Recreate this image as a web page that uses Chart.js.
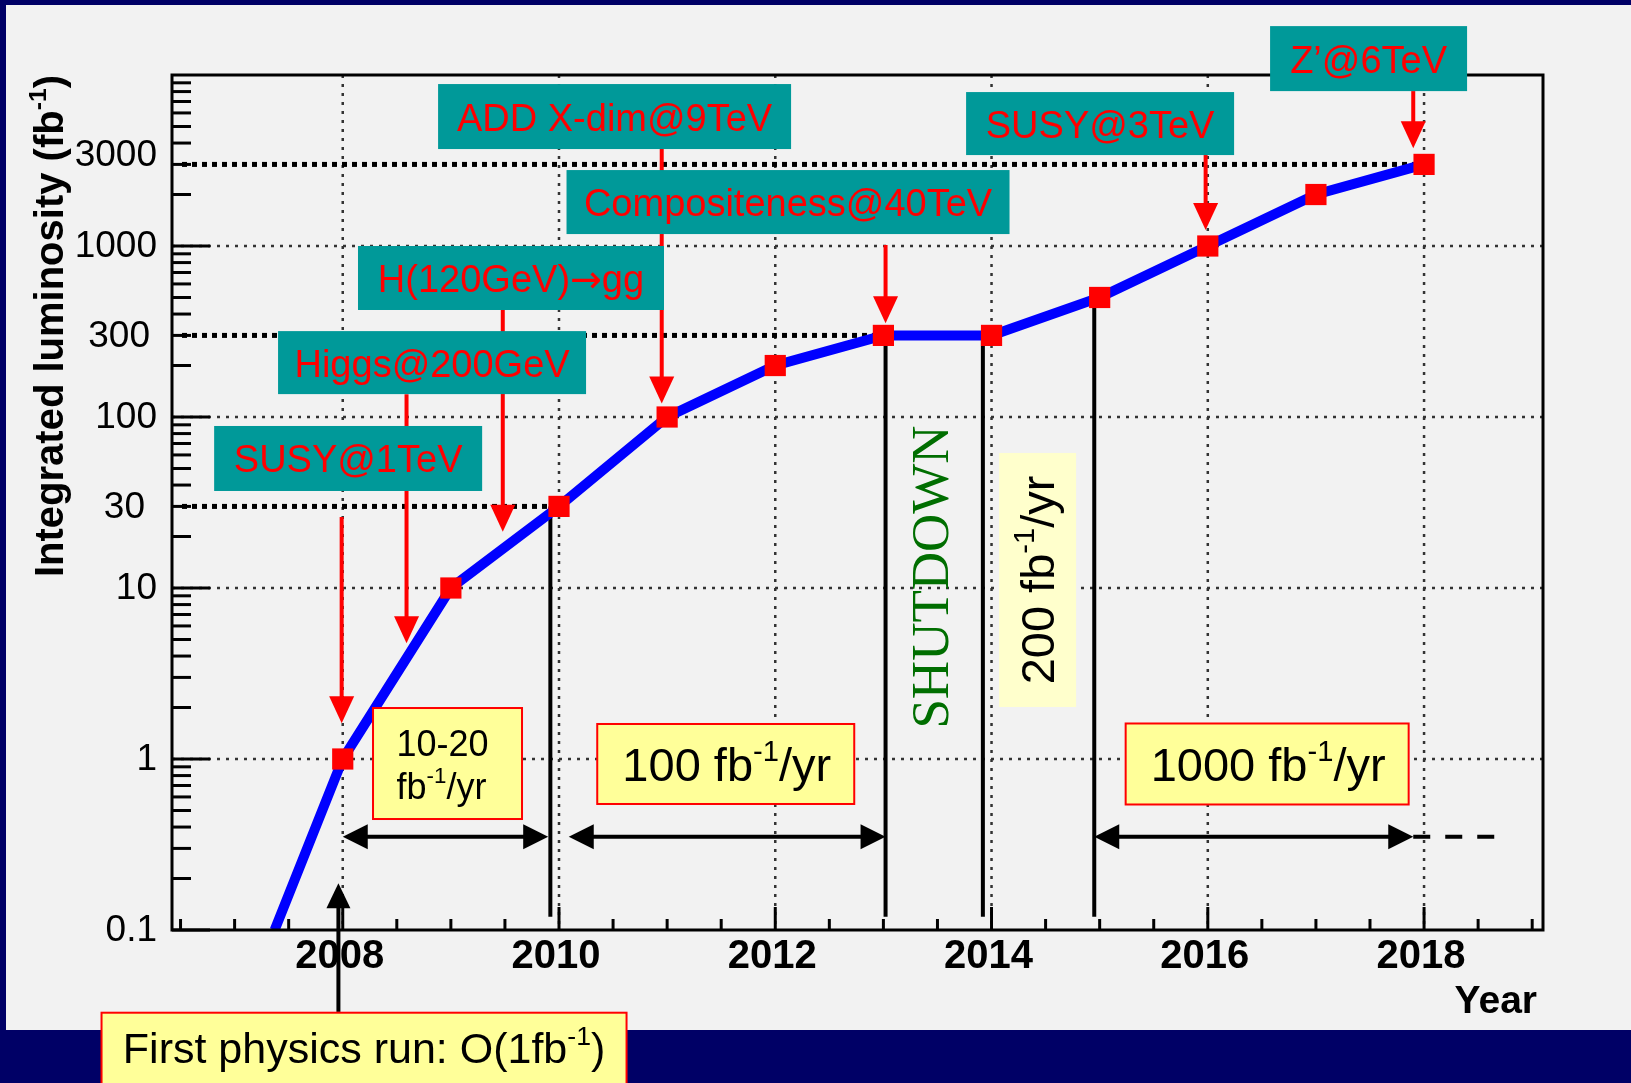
<!DOCTYPE html>
<html>
<head>
<meta charset="utf-8">
<title>Integrated luminosity projection</title>
<script src="https://cdn.jsdelivr.net/npm/chart.js@4.4.0/dist/chart.umd.min.js"></script>
<style>
  html, body { margin: 0; padding: 0; background: #000066; }
  canvas { display: block; }
</style>
</head>
<body>
<canvas id="lumiChart" width="1631" height="1083"></canvas>
<script>
// integrated luminosity reached at the end of each year (fb^-1)
const years = [2008, 2009, 2010, 2011, 2012, 2013, 2014, 2015, 2016, 2017, 2018];
const lumi = [1, 10, 30, 100, 200, 300, 300, 500, 1000, 2000, 3000];
// the curve comes in from the bottom of the plot before 2008
const rampYear = 2007.37;
const rampLumi = 0.1;

const yearLabels = [2008, 2010, 2012, 2014, 2016, 2018];
const lumiLabels = [0.1, 1, 10, 30, 100, 300, 1000, 3000];
const lumiGrid = [1, 10, 100, 1000];
const guideLumi = [30, 300, 3000];
const guideYear = [2010, 2013, 2018];

const reachLabels = ['SUSY@1TeV', 'Higgs@200GeV', 'H(120GeV)\u2192gg', 'ADD X-dim@9TeV',
  'Compositeness@40TeV', 'SUSY@3TeV', 'Z\u2019@6TeV'];

const FONT = '"Liberation Sans", Arial, Helvetica, sans-serif';
const SERIF = '"Liberation Serif", "Times New Roman", serif';

// where things go, in (year, lumi) so they follow the scales
const reachBoxes = [
  { x: 2008.05, y: 57.2, w: 268, h: 65 },
  { x: 2008.826, y: 208, w: 308, h: 63 },
  { x: 2009.556, y: 650, w: 306, h: 64 },
  { x: 2010.514, y: 5715, w: 353, h: 65 },
  { x: 2012.118, y: 1807, w: 443, h: 64 },
  { x: 2015.004, y: 5200, w: 268, h: 63 },
  { x: 2017.487, y: 12470, w: 197, h: 65 },
];
const reachArrows = [
  { x: 2007.99, from: 26, to: 1.62 },
  { x: 2008.59, from: 136, to: 4.75 },
  { x: 2009.48, from: 422, to: 21.3 },
  { x: 2010.95, from: 5457, to: 120 },
  { x: 2013.02, from: 1014, to: 353 },
  { x: 2015.98, from: 3404, to: 1240 },
  { x: 2017.9, from: 8055, to: 3725 },
];
// run periods (double arrows) and the black markers dropping from the curve
const spanY = 0.351;
const spans = [[2008.0, 2009.9], [2010.09, 2013.02], [2014.95, 2017.9]];
const dropLines = [{ x: 2009.92, y: 30 }, { x: 2013.02, y: 300 }, { x: 2013.92, y: 300 }, { x: 2014.95, y: 500 }];
const dropEnd = 0.1196;

const sup = t => [t, true];

function font(size, bold) {
  return (bold ? 'bold ' : '') + size + 'px ' + FONT;
}

// text with superscripts: segs = [[text, isSup], ...]
function drawRich(ctx, segs, x, y, size, align, bold) {
  let total = 0;
  const widths = segs.map(([t, s]) => {
    ctx.font = font(s ? size * 0.62 : size, bold);
    const w = ctx.measureText(t).width;
    total += w;
    return w;
  });
  let cx = align === 'center' ? x - total / 2 : align === 'right' ? x - total : x;
  ctx.textAlign = 'left';
  ctx.textBaseline = 'alphabetic';
  segs.forEach(([t, s], i) => {
    ctx.font = font(s ? size * 0.62 : size, bold);
    ctx.fillText(t, cx, s ? y - size * 0.42 : y);
    cx += widths[i];
  });
}

// box label; the arrow glyph is taken from DejaVu so it reads at full size
function drawReachLabel(ctx, label, x, y, size) {
  const parts = label.split('\u2192');
  const fonts = [];
  const texts = [];
  parts.forEach((p, i) => {
    if (i > 0) { texts.push('\u2192'); fonts.push(size + 'px "DejaVu Sans", sans-serif'); }
    texts.push(p); fonts.push(font(size, false));
  });
  let total = 0;
  const widths = texts.map((t, i) => { ctx.font = fonts[i]; const w = ctx.measureText(t).width; total += w; return w; });
  let cx = x - total / 2;
  ctx.textAlign = 'left';
  texts.forEach((t, i) => { ctx.font = fonts[i]; ctx.fillText(t, cx, y); cx += widths[i]; });
}

function arrowDown(ctx, x, y1, y2, head, half) {
  ctx.beginPath();
  ctx.moveTo(x, y1);
  ctx.lineTo(x, y2 - head + 1);
  ctx.stroke();
  ctx.beginPath();
  ctx.moveTo(x, y2);
  ctx.lineTo(x - half, y2 - head);
  ctx.lineTo(x + half, y2 - head);
  ctx.closePath();
  ctx.fill();
}

function arrowUp(ctx, x, y1, y2, head, half) {
  ctx.beginPath();
  ctx.moveTo(x, y1);
  ctx.lineTo(x, y2 + head - 1);
  ctx.stroke();
  ctx.beginPath();
  ctx.moveTo(x, y2);
  ctx.lineTo(x - half, y2 + head);
  ctx.lineTo(x + half, y2 + head);
  ctx.closePath();
  ctx.fill();
}

function doubleArrow(ctx, x1, x2, y) {
  const head = 25, half = 12.5;
  ctx.beginPath();
  ctx.moveTo(x1 + head - 1, y);
  ctx.lineTo(x2 - head + 1, y);
  ctx.stroke();
  ctx.beginPath();
  ctx.moveTo(x1, y);
  ctx.lineTo(x1 + head, y - half);
  ctx.lineTo(x1 + head, y + half);
  ctx.closePath();
  ctx.fill();
  ctx.beginPath();
  ctx.moveTo(x2, y);
  ctx.lineTo(x2 - head, y - half);
  ctx.lineTo(x2 - head, y + half);
  ctx.closePath();
  ctx.fill();
}

function yellowBox(ctx, cx, cy, w, h, border) {
  ctx.fillStyle = border ? '#ffff99' : '#ffffcc';
  ctx.fillRect(cx - w / 2, cy - h / 2, w, h);
  if (border) {
    ctx.strokeStyle = '#ff0000';
    ctx.lineWidth = 2;
    ctx.setLineDash([]);
    ctx.strokeRect(cx - w / 2, cy - h / 2, w, h);
  }
}

const rootStyle = {
  id: 'rootStyle',
  beforeDraw(chart) {
    const ctx = chart.ctx;
    ctx.save();
    ctx.fillStyle = '#000066';
    ctx.fillRect(0, 0, chart.width, chart.height);
    ctx.fillStyle = '#f2f2f2';
    ctx.fillRect(6, 5, chart.width - 6, 1025);
    ctx.restore();
  },
  beforeDatasetsDraw(chart) {
    const ctx = chart.ctx;
    const { left, right, top, bottom } = chart.chartArea;
    const X = v => chart.scales.x.getPixelForValue(v);
    const Y = v => chart.scales.y.getPixelForValue(v);
    ctx.save();

    // dotted grid
    ctx.strokeStyle = '#333';
    ctx.lineWidth = 2.5;
    ctx.setLineDash([3, 6]);
    yearLabels.forEach(t => {
      ctx.beginPath();
      ctx.moveTo(X(t), top);
      ctx.lineTo(X(t), bottom);
      ctx.stroke();
    });
    lumiGrid.forEach(v => {
      ctx.beginPath();
      ctx.moveTo(left, Y(v));
      ctx.lineTo(right, Y(v));
      ctx.stroke();
    });

    // heavy dotted guides to 30, 300, 3000
    ctx.strokeStyle = '#000';
    ctx.lineWidth = 5;
    ctx.setLineDash([5, 5]);
    guideLumi.forEach((v, i) => {
      ctx.beginPath();
      ctx.moveTo(left + 10, Y(v));
      ctx.lineTo(X(guideYear[i]), Y(v));
      ctx.stroke();
    });

    // drop lines marking the running periods
    ctx.setLineDash([]);
    ctx.lineWidth = 4;
    dropLines.forEach(d => {
      ctx.beginPath();
      ctx.moveTo(X(d.x), Y(d.y));
      ctx.lineTo(X(d.x), Y(dropEnd));
      ctx.stroke();
    });
    ctx.restore();
  },
  afterDatasetsDraw(chart) {
    const ctx = chart.ctx;
    const { left, right, top, bottom } = chart.chartArea;
    const X = v => chart.scales.x.getPixelForValue(v);
    const Y = v => chart.scales.y.getPixelForValue(v);
    ctx.save();
    ctx.setLineDash([]);

    // frame and ticks
    ctx.strokeStyle = '#000';
    ctx.lineWidth = 3;
    ctx.strokeRect(left, top, right - left, bottom - top);
    for (let t = 2006.5; t < 2019.1; t += 0.5) {
      const len = t % 2 === 0 ? 23 : 11;
      ctx.beginPath();
      ctx.moveTo(X(t), bottom);
      ctx.lineTo(X(t), bottom - len);
      ctx.stroke();
    }
    for (let e = -1; e <= 3; e++) {
      for (let k = 1; k <= 9; k++) {
        const v = k * Math.pow(10, e);
        const len = k === 1 ? 38 : 19;
        ctx.beginPath();
        ctx.moveTo(left, Y(v));
        ctx.lineTo(left + len, Y(v));
        ctx.stroke();
      }
    }

    // tick labels
    ctx.fillStyle = '#000';
    ctx.font = font(37, false);
    ctx.textAlign = 'right';
    ctx.textBaseline = 'middle';
    const labelShift = { 30: [-12, 0], 300: [-7, 0], 3000: [0, -10] };
    lumiLabels.forEach(v => {
      const [dx, dy] = labelShift[v] || [0, 0];
      ctx.fillText(String(v), left - 15 + dx, Y(v) + 1 + dy);
    });
    ctx.font = font(40, true);
    ctx.textAlign = 'center';
    ctx.textBaseline = 'alphabetic';
    yearLabels.forEach(t => ctx.fillText(String(t), X(t) - 3, bottom + 38));

    // axis titles
    ctx.font = font(39, true);
    ctx.textAlign = 'right';
    ctx.fillText('Year', right - 6, bottom + 83);
    ctx.save();
    ctx.translate(63, top);
    ctx.rotate(-Math.PI / 2);
    drawRich(ctx, [['Integrated luminosity (fb'], sup('-1'), [')']], 0, 0, 40, 'right', true);
    ctx.restore();

    // red reach arrows, then the teal boxes over them
    ctx.strokeStyle = '#ff0000';
    ctx.fillStyle = '#ff0000';
    ctx.lineWidth = 4;
    reachArrows.forEach(a => arrowDown(ctx, X(a.x), Y(a.from), Y(a.to), 27, 12.5));
    reachBoxes.forEach((b, i) => {
      const cx = X(b.x), cy = Y(b.y);
      ctx.fillStyle = '#009999';
      ctx.fillRect(cx - b.w / 2, cy - b.h / 2, b.w, b.h);
      ctx.fillStyle = '#ff0000';
      ctx.textBaseline = 'alphabetic';
      drawReachLabel(ctx, reachLabels[i], cx, cy + 14, 38);
    });

    // running periods
    ctx.strokeStyle = '#000';
    ctx.fillStyle = '#000';
    ctx.lineWidth = 4;
    spans.forEach(([a, b]) => doubleArrow(ctx, X(a), X(b), Y(spanY)));
    ctx.setLineDash([17, 15]);
    ctx.beginPath();
    ctx.moveTo(X(2017.9), Y(spanY));
    ctx.lineTo(X(2018.65), Y(spanY));
    ctx.stroke();
    ctx.setLineDash([]);

    // rate boxes
    let cx = X(2008.969), cy = Y(0.941);
    yellowBox(ctx, cx, cy, 149, 111, true);
    ctx.fillStyle = '#000';
    drawRich(ctx, [['10-20']], cx - 5, cy - 8, 36, 'center');
    drawRich(ctx, [['fb'], sup('-1'), ['/yr']], cx - 6, cy + 35, 36, 'center');

    cx = X(2011.542); cy = Y(0.935);
    yellowBox(ctx, cx, cy, 257, 80, true);
    ctx.fillStyle = '#000';
    drawRich(ctx, [['100 fb'], sup('-1'), ['/yr']], cx + 1, cy + 17, 47, 'center');

    cx = X(2016.549); cy = Y(0.935);
    yellowBox(ctx, cx, cy, 283, 81, true);
    ctx.fillStyle = '#000';
    drawRich(ctx, [['1000 fb'], sup('-1'), ['/yr']], cx + 1, cy + 17, 47, 'center');

    cx = X(2014.426); cy = Y(11.14);
    yellowBox(ctx, cx, cy, 77, 254, false);
    ctx.save();
    ctx.fillStyle = '#000';
    ctx.translate(cx + 16, cy);
    ctx.rotate(-Math.PI / 2);
    drawRich(ctx, [['200 fb'], sup('-1'), ['/yr']], 0, 0, 47, 'center');
    ctx.restore();

    // shutdown
    ctx.save();
    ctx.fillStyle = '#006e00';
    ctx.font = '53px ' + SERIF;
    ctx.textAlign = 'center';
    ctx.textBaseline = 'alphabetic';
    ctx.translate(X(2013.433) + 18, Y(11.6));
    ctx.rotate(-Math.PI / 2);
    ctx.fillText('SHUTDOWN', 0, 0);
    ctx.restore();

    // first physics run
    ctx.strokeStyle = '#000';
    ctx.fillStyle = '#000';
    ctx.lineWidth = 4;
    arrowUp(ctx, X(2007.96), Y(0.0332), Y(0.1875), 25, 12);
    cx = X(2008.197); cy = Y(0.01942);
    yellowBox(ctx, cx, cy, 525, 78, true);
    ctx.fillStyle = '#000';
    drawRich(ctx, [['First physics run: O(1fb'], sup('-1'), [')']], cx, cy + 11, 43, 'center');

    ctx.restore();
  }
};

const ctx = document.getElementById('lumiChart').getContext('2d');
const chart = new Chart(ctx, {
  type: 'line',
  data: {
    datasets: [
      {
        // yearly markers
        data: years.map((x, i) => ({ x: x, y: lumi[i] })),
        showLine: false,
        pointStyle: 'rect',
        pointRadius: 15,
        backgroundColor: '#ff0000',
        borderWidth: 0,
        order: 0,
      },
      {
        data: [{ x: rampYear, y: rampLumi }].concat(years.map((x, i) => ({ x: x, y: lumi[i] }))),
        borderColor: '#0000ff',
        borderWidth: 10,
        pointRadius: 0,
        tension: 0,
        order: 1,
      },
    ],
  },
  options: {
    responsive: false,
    animation: false,
    devicePixelRatio: 1,
    layout: { padding: { left: 172, top: 75, right: 88, bottom: 153 } },
    scales: {
      x: { type: 'linear', min: 2006.421, max: 2019.1, display: false },
      y: { type: 'logarithmic', min: 0.1, max: 10000, display: false },
    },
    plugins: { legend: { display: false }, tooltip: { enabled: false } },
  },
  plugins: [rootStyle],
});
</script>
</body>
</html>
